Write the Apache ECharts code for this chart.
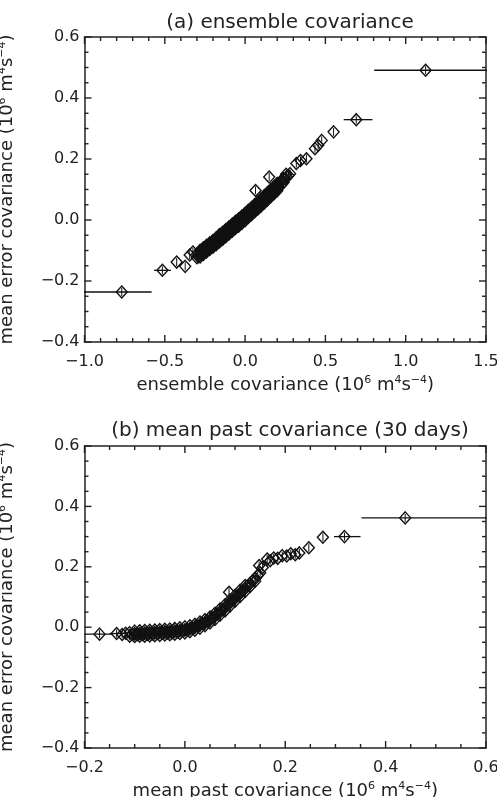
<!DOCTYPE html>
<html>
<head>
<meta charset="utf-8">
<script src="https://cdn.jsdelivr.net/npm/echarts@6/dist/echarts.min.js"></script>
<style>
html, body { margin: 0; padding: 0; background: #fff; }
#chart { width: 497px; height: 797px; }
</style>
</head>
<body>
<div id="chart"></div>
<script>
// (a) ensemble covariance: isolated bin means
const aX = [
  -0.768, -0.515, -0.426, -0.373, -0.345, -0.325,
  0.065, 0.15, 0.255,
  0.319, 0.345, 0.382, 0.435, 0.455, 0.477, 0.551, 0.692, 1.124
]
const aY = [
  -0.236, -0.165, -0.138, -0.152, -0.115, -0.105,
  0.097, 0.141, 0.150,
  0.185, 0.195, 0.201, 0.234, 0.245, 0.261, 0.289, 0.329, 0.491
]
// (a) dense band of bin means
const aBandX = [
  -0.30, -0.30, -0.29, -0.29, -0.28, -0.28, -0.28, -0.27, -0.27, -0.26, -0.26, -0.26,
  -0.25, -0.25, -0.24, -0.24, -0.24, -0.23, -0.23, -0.22, -0.22, -0.22,
  -0.21, -0.21, -0.20, -0.20, -0.20, -0.19, -0.19, -0.18, -0.18, -0.18,
  -0.17, -0.17, -0.16, -0.16, -0.16, -0.15, -0.15, -0.14, -0.14, -0.14,
  -0.13, -0.13, -0.12, -0.12, -0.12, -0.11, -0.11, -0.10, -0.10, -0.10,
  -0.09, -0.09, -0.08, -0.08, -0.08, -0.07, -0.07, -0.06, -0.06, -0.06,
  -0.05, -0.05, -0.04, -0.04, -0.04, -0.03, -0.03, -0.02, -0.02, -0.02,
  -0.01, -0.01, 0.00, 0.00, 0.00, 0.01, 0.01, 0.02, 0.02, 0.02,
  0.03, 0.03, 0.04, 0.04, 0.04, 0.05, 0.05, 0.06, 0.06, 0.06,
  0.07, 0.07, 0.08, 0.08, 0.08, 0.09, 0.09, 0.10, 0.10, 0.10,
  0.11, 0.11, 0.12, 0.12, 0.12, 0.13, 0.13, 0.14, 0.14, 0.14,
  0.15, 0.15, 0.16, 0.16, 0.16, 0.17, 0.17, 0.18, 0.18, 0.18,
  0.19, 0.19, 0.20, 0.20, 0.20, 0.21, 0.21, 0.22, 0.22, 0.23,
  0.23, 0.24, 0.24, 0.25, 0.26, 0.27, 0.28
]
const aBandY = [
  -0.124, -0.112, -0.120, -0.108, -0.121, -0.110, -0.099, -0.112, -0.100, -0.113, -0.102, -0.091,
  -0.104, -0.092, -0.105, -0.094, -0.083, -0.096, -0.084, -0.097, -0.086, -0.075,
  -0.088, -0.076, -0.089, -0.078, -0.067, -0.080, -0.068, -0.081, -0.069, -0.058,
  -0.071, -0.059, -0.072, -0.060, -0.048, -0.062, -0.050, -0.064, -0.052, -0.040,
  -0.053, -0.041, -0.055, -0.043, -0.031, -0.044, -0.032, -0.046, -0.034, -0.022,
  -0.036, -0.024, -0.037, -0.025, -0.013, -0.027, -0.015, -0.028, -0.016, -0.004,
  -0.018, -0.006, -0.020, -0.008, 0.004, -0.009, 0.003, -0.011, 0.001, 0.013,
  0.000, 0.012, -0.002, 0.010, 0.022, 0.009, 0.021, 0.008, 0.020, 0.032,
  0.018, 0.030, 0.017, 0.029, 0.041, 0.028, 0.040, 0.027, 0.039, 0.051,
  0.038, 0.050, 0.036, 0.048, 0.060, 0.047, 0.059, 0.046, 0.058, 0.070,
  0.057, 0.069, 0.056, 0.068, 0.080, 0.067, 0.079, 0.066, 0.078, 0.090,
  0.077, 0.089, 0.076, 0.088, 0.100, 0.087, 0.099, 0.086, 0.098, 0.110,
  0.097, 0.109, 0.096, 0.108, 0.120, 0.107, 0.119, 0.113, 0.125, 0.118,
  0.130, 0.124, 0.136, 0.135, 0.141, 0.146, 0.152
]
// (a) horizontal bars of the outer bins
const aBarY = [-0.236, -0.165, 0.329, 0.491]
const aBarLo = [-1.05, -0.567, 0.614, 0.804]
const aBarHi = [-0.582, -0.462, 0.793, 1.55]

// (b) mean past covariance (30 days): isolated bin means
const bX = [
  -0.170, -0.136, -0.125, -0.118,
  0.088, 0.148, 0.155, 0.164, 0.170, 0.177, 0.185, 0.194, 0.203, 0.211, 0.220, 0.228, 0.247,
  0.275, 0.318, 0.439
]
const bY = [
  -0.023, -0.021, -0.024, -0.020,
  0.116, 0.204, 0.198, 0.226, 0.220, 0.229, 0.228, 0.237, 0.236, 0.243, 0.240, 0.246, 0.263,
  0.298, 0.300, 0.362
]
// (b) dense band of bin means
const bBandX = [
  -0.110, -0.110, -0.105, -0.100, -0.100, -0.100, -0.095, -0.090, -0.090, -0.090,
  -0.085, -0.080, -0.080, -0.080, -0.075, -0.070, -0.070, -0.070, -0.065, -0.060,
  -0.060, -0.060, -0.055, -0.050, -0.050, -0.050, -0.045, -0.040, -0.040, -0.040,
  -0.035, -0.030, -0.030, -0.030, -0.025, -0.020, -0.020, -0.020, -0.015, -0.010,
  -0.010, -0.010, -0.005, 0.000, 0.000, 0.000, 0.005, 0.010, 0.010, 0.010,
  0.015, 0.020, 0.020, 0.020, 0.025, 0.030, 0.030, 0.030, 0.035, 0.040,
  0.040, 0.040, 0.045, 0.050, 0.050, 0.050, 0.055, 0.060, 0.060, 0.060,
  0.065, 0.070, 0.070, 0.070, 0.075, 0.080, 0.080, 0.080, 0.085, 0.090,
  0.090, 0.090, 0.095, 0.100, 0.100, 0.100, 0.105, 0.110, 0.110, 0.110,
  0.115, 0.120, 0.120, 0.120, 0.125, 0.130, 0.130, 0.135, 0.140, 0.140,
  0.145, 0.150
]
const bBandY = [
  -0.030, -0.018, -0.024, -0.031, -0.022, -0.013, -0.025, -0.030, -0.021, -0.012,
  -0.024, -0.030, -0.020, -0.011, -0.023, -0.029, -0.019, -0.010, -0.022, -0.028,
  -0.018, -0.009, -0.021, -0.027, -0.017, -0.008, -0.020, -0.026, -0.016, -0.007,
  -0.019, -0.025, -0.015, -0.006, -0.018, -0.023, -0.013, -0.004, -0.015, -0.021,
  -0.011, -0.002, -0.012, -0.019, -0.009, 0.001, -0.009, -0.015, -0.005, 0.005,
  -0.004, -0.010, 0.000, 0.010, 0.004, -0.003, 0.007, 0.017, 0.012, 0.005,
  0.015, 0.025, 0.021, 0.014, 0.024, 0.034, 0.031, 0.026, 0.036, 0.046,
  0.044, 0.040, 0.050, 0.060, 0.058, 0.054, 0.064, 0.074, 0.073, 0.070,
  0.080, 0.090, 0.089, 0.086, 0.096, 0.106, 0.105, 0.102, 0.112, 0.122,
  0.121, 0.118, 0.128, 0.138, 0.137, 0.135, 0.145, 0.154, 0.152, 0.162,
  0.171, 0.180
]
// (b) horizontal bars of the outer bins
const bBarY = [-0.023, -0.021, 0.300, 0.362]
const bBarLo = [-0.21, -0.150, 0.297, 0.352]
const bBarHi = [-0.144, -0.120, 0.350, 0.65]

// tick positions
const aMajorX = [-1.0, -0.5, 0.0, 0.5, 1.0, 1.5]
const aMinorX = [-0.9, -0.8, -0.7, -0.6, -0.4, -0.3, -0.2, -0.1, 0.1, 0.2, 0.3, 0.4,
  0.6, 0.7, 0.8, 0.9, 1.1, 1.2, 1.3, 1.4]
const bMajorX = [-0.2, 0.0, 0.2, 0.4, 0.6]
const bMinorX = [-0.15, -0.1, -0.05, 0.05, 0.1, 0.15, 0.25, 0.3, 0.35, 0.45, 0.5, 0.55]
const majorY = [-0.4, -0.2, 0.0, 0.2, 0.4, 0.6]
const minorY = [-0.35, -0.3, -0.25, -0.15, -0.1, -0.05, 0.05, 0.1, 0.15, 0.25, 0.3, 0.35,
  0.45, 0.5, 0.55]

const ink = '#222'
const font = 'DejaVu Sans'

function fmt(v) {
  return (v < 0 ? '\u2212' : '') + Math.abs(v).toFixed(1)
}

function marker(params, api) {
  const p = api.coord([api.value(0), api.value(1)])
  return {
    type: 'group',
    children: [
      {
        type: 'polygon',
        shape: { points: [[p[0], p[1] - 6], [p[0] + 5.5, p[1]], [p[0], p[1] + 6], [p[0] - 5.5, p[1]]] },
        style: { fill: 'none', stroke: '#111', lineWidth: 1.4 }
      },
      {
        type: 'line',
        shape: { x1: p[0], y1: p[1] - 4, x2: p[0], y2: p[1] + 4 },
        style: { stroke: '#111', lineWidth: 1 }
      }
    ]
  }
}

function hbar(params, api) {
  const p0 = api.coord([api.value(1), api.value(0)])
  const p1 = api.coord([api.value(2), api.value(0)])
  return {
    type: 'line',
    shape: { x1: p0[0], y1: p0[1], x2: p1[0], y2: p1[1] },
    style: { stroke: '#111', lineWidth: 1.3 }
  }
}

// inward ticks on both opposite sides of the frame, placed by the axis scales
function tickSeries(axisIdx, vals, len, xr, yr, vertical) {
  return {
    type: 'custom', xAxisIndex: axisIdx, yAxisIndex: axisIdx, clip: false, silent: true, z: 10,
    data: vals.map(v => vertical ? [v, yr[0]] : [xr[0], v]),
    renderItem: function (params, api) {
      if (vertical) {
        const v = api.value(0)
        const b = api.coord([v, yr[0]])
        const t = api.coord([v, yr[1]])
        return {
          type: 'group',
          children: [
            { type: 'line', shape: { x1: b[0], y1: b[1], x2: b[0], y2: b[1] - len }, style: { stroke: ink, lineWidth: 1.4 } },
            { type: 'line', shape: { x1: t[0], y1: t[1], x2: t[0], y2: t[1] + len }, style: { stroke: ink, lineWidth: 1.4 } }
          ]
        }
      }
      const v = api.value(1)
      const l = api.coord([xr[0], v])
      const r = api.coord([xr[1], v])
      return {
        type: 'group',
        children: [
          { type: 'line', shape: { x1: l[0], y1: l[1], x2: l[0] + len, y2: l[1] }, style: { stroke: ink, lineWidth: 1.4 } },
          { type: 'line', shape: { x1: r[0], y1: r[1], x2: r[0] - len, y2: r[1] }, style: { stroke: ink, lineWidth: 1.4 } }
        ]
      }
    }
  }
}

function unitRich() {
  return { s: { fontSize: 11, fontFamily: font, color: ink, padding: [0, 0, 10, 0] } }
}

// one frame side; the second x/y axis of a grid falls on the top/right side
function side(grid, min, max, interval, mirror, isY) {
  return {
    type: 'value', gridIndex: grid, min: min, max: max, interval: interval,
    axisLine: { show: true, onZero: false, lineStyle: { color: ink, width: 1.5 } },
    axisTick: { show: false },
    minorTick: { show: false },
    splitLine: { show: false },
    axisLabel: {
      show: !mirror, fontSize: 16, fontFamily: font, color: ink,
      margin: isY ? 5 : 12,
      showMinLabel: true, showMaxLabel: true, formatter: fmt
    }
  }
}

function named(axis, name, gap, rotate) {
  axis.name = name
  axis.nameLocation = 'middle'
  axis.nameGap = gap
  if (rotate) axis.nameRotate = 90
  axis.nameTextStyle = { fontSize: 18, fontFamily: font, color: ink, rich: unitRich() }
  return axis
}

const yName = 'mean error covariance (10{s|6} m{s|4}s{s|\u22124})'
const aRangeX = [-1.0, 1.5]
const bRangeX = [-0.2, 0.6]
const rangeY = [-0.4, 0.6]

const chart = echarts.init(document.getElementById('chart'), null, { renderer: 'canvas' })

chart.setOption({
  backgroundColor: '#fff',
  animation: false,
  title: [
    {
      text: '(a) ensemble covariance', left: 285, top: 8, textAlign: 'center',
      textStyle: { fontSize: 20, fontWeight: 'normal', fontFamily: font, color: ink }
    },
    {
      text: '(b) mean past covariance (30 days)', left: 285, top: 416, textAlign: 'center',
      textStyle: { fontSize: 20, fontWeight: 'normal', fontFamily: font, color: ink }
    }
  ],
  grid: [
    { left: 84.5, top: 37, width: 401.5, height: 305, outerBoundsMode: 'none', containLabel: false },
    { left: 84.5, top: 446, width: 401.5, height: 302, outerBoundsMode: 'none', containLabel: false }
  ],
  xAxis: [
    named(side(0, -1.0, 1.5, 0.5, false, false), 'ensemble covariance (10{s|6} m{s|4}s{s|\u22124})', 33),
    side(0, -1.0, 1.5, 0.5, true, false),
    named(side(1, -0.2, 0.6, 0.2, false, false), 'mean past covariance (10{s|6} m{s|4}s{s|\u22124})', 33),
    side(1, -0.2, 0.6, 0.2, true, false)
  ],
  yAxis: [
    named(side(0, -0.4, 0.6, 0.2, false, true), yName, 67, true),
    side(0, -0.4, 0.6, 0.2, true, true),
    named(side(1, -0.4, 0.6, 0.2, false, true), yName, 67, true),
    side(1, -0.4, 0.6, 0.2, true, true)
  ],
  series: [
    {
      type: 'custom', xAxisIndex: 0, yAxisIndex: 0, clip: true, renderItem: hbar,
      data: aBarY.map((y, i) => [y, aBarLo[i], aBarHi[i]])
    },
    {
      type: 'custom', xAxisIndex: 0, yAxisIndex: 0, clip: true, renderItem: marker,
      data: aBandX.map((x, i) => [x, aBandY[i]]).concat(aX.map((x, i) => [x, aY[i]]))
    },
    {
      type: 'custom', xAxisIndex: 2, yAxisIndex: 2, clip: true, renderItem: hbar,
      data: bBarY.map((y, i) => [y, bBarLo[i], bBarHi[i]])
    },
    {
      type: 'custom', xAxisIndex: 2, yAxisIndex: 2, clip: true, renderItem: marker,
      data: bBandX.map((x, i) => [x, bBandY[i]]).concat(bX.map((x, i) => [x, bY[i]]))
    },
    tickSeries(0, aMajorX, 7, aRangeX, rangeY, true),
    tickSeries(0, aMinorX, 4, aRangeX, rangeY, true),
    tickSeries(0, majorY, 7, aRangeX, rangeY, false),
    tickSeries(0, minorY, 4, aRangeX, rangeY, false),
    tickSeries(2, bMajorX, 7, bRangeX, rangeY, true),
    tickSeries(2, bMinorX, 4, bRangeX, rangeY, true),
    tickSeries(2, majorY, 7, bRangeX, rangeY, false),
    tickSeries(2, minorY, 4, bRangeX, rangeY, false)
  ]
})

window.addEventListener('resize', function () {
  chart.resize()
})
</script>
</body>
</html>
